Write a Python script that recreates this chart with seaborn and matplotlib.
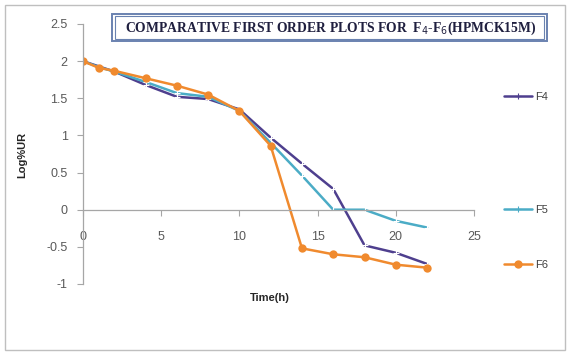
import matplotlib
matplotlib.use("Agg")
import matplotlib.pyplot as plt
import seaborn as sns
import pandas as pd
from matplotlib.lines import Line2D
from matplotlib.patches import Rectangle

time_h = [0, 1, 2, 4, 6, 8, 10, 12, 14, 16, 18, 20, 22]
f4 = [2.0, 1.93, 1.86, 1.68, 1.52, 1.49, 1.35, 0.97, 0.62, 0.28, -0.48, -0.58, -0.73]
f5 = [2.0, 1.92, 1.86, 1.72, 1.57, 1.52, 1.33, 0.90, 0.46, 0.0, 0.0, -0.15, -0.24]
f6 = [2.0, 1.91, 1.87, 1.77, 1.67, 1.55, 1.33, 0.86, -0.52, -0.60, -0.64, -0.74, -0.78]
series_names = ["F4", "F5", "F6"]
x_ticks = [0, 5, 10, 15, 20, 25]
y_ticks = [-1, -0.5, 0, 0.5, 1, 1.5, 2, 2.5]
title = "COMPARATIVE FIRST ORDER PLOTS FOR  F$_4$-F$_6$(HPMCK15M)"

colors = {"F4": "#4E3F8E", "F5": "#4BACC6", "F6": "#F08A2E"}

sns.set_style("white")
plt.rcParams['font.family'] = ['Liberation Sans', 'DejaVu Sans']

df = pd.DataFrame({"Time": time_h * 3,
                   "Value": f4 + f5 + f6,
                   "Series": [s for s in series_names for _ in time_h]})

fig = plt.figure(figsize=(5.67, 3.55), dpi=100)
ax = fig.add_axes([83 / 567, 1 - 284 / 355, (474 - 83) / 567, (284 - 24) / 355])

styles = {"F4": dict(marker="+", ms=4, mew=0.8),
          "F5": dict(marker="+", ms=4, mew=0.8),
          "F6": dict(marker="o", ms=6, mew=0)}
for s in series_names:
    sub = df[df.Series == s]
    sns.lineplot(data=sub, x="Time", y="Value", ax=ax, color=colors[s],
                 lw=1.8, legend=False, **styles[s])

ax.set_xlim(0, 25)
ax.set_ylim(-1, 2.5)
ax.set_xticks(x_ticks)
ax.set_yticks(y_ticks)
ax.set_xticklabels([str(t) for t in x_ticks])
ax.set_yticklabels([f"{t:g}" for t in y_ticks])
for sp in ["top", "right"]:
    ax.spines[sp].set_visible(False)
ax.spines["bottom"].set_position(("data", 0))
for sp in ["left", "bottom"]:
    ax.spines[sp].set_color("#A6A6A6")
    ax.spines[sp].set_linewidth(0.9)
ax.tick_params(axis="y", direction="out", length=4, width=0.8, color="#A6A6A6",
               labelsize=9, labelcolor="#595959", pad=7, left=True)
ax.tick_params(axis="x", direction="out", length=4, width=0.8, color="#A6A6A6",
               labelsize=9, labelcolor="#595959", pad=11, bottom=True)
ax.set_xlabel("")
ax.set_ylabel("")
fig.text(270 / 567, 1 - 298 / 355, "Time(h)", ha="center", va="center",
         fontsize=8, fontweight="bold", color="#262626")
fig.text(22 / 567, 1 - 155 / 355, "Log%UR", ha="center", va="center",
         rotation=90, fontsize=8, fontweight="bold", color="#262626")

# title box with double border
fig.text(331 / 567, 1 - 28 / 355, title, ha="center", va="center",
         fontsize=9.8, fontweight="bold", family="Liberation Serif", color="#1F1F3F")
fig.patches.append(Rectangle((112 / 567, 1 - 41 / 355), 435 / 567, 27 / 355,
                             transform=fig.transFigure, fill=False,
                             edgecolor="#6A82B0", lw=1.4))
fig.patches.append(Rectangle((115 / 567, 1 - 38.5 / 355), 429 / 567, 22 / 355,
                             transform=fig.transFigure, fill=False,
                             edgecolor="#6A82B0", lw=0.8))

# outer chart border
fig.patches.append(Rectangle((5 / 567, 5 / 355), 560 / 567, 345 / 355,
                             transform=fig.transFigure, fill=False,
                             edgecolor="#BFBFBF", lw=1.0))

# legends placed separately, as in the reference
legend_y = {"F4": 97, "F5": 210, "F6": 265}
for s in series_names:
    h = Line2D([], [], color=colors[s], lw=1.8, **styles[s])
    lg = fig.legend([h], [s], loc="center left",
                    bbox_to_anchor=(498 / 567, 1 - legend_y[s] / 355),
                    frameon=False, fontsize=8, handlelength=2.6,
                    handletextpad=0.2, borderpad=0, labelcolor="#404040")

fig.savefig("out.png", dpi=100)
